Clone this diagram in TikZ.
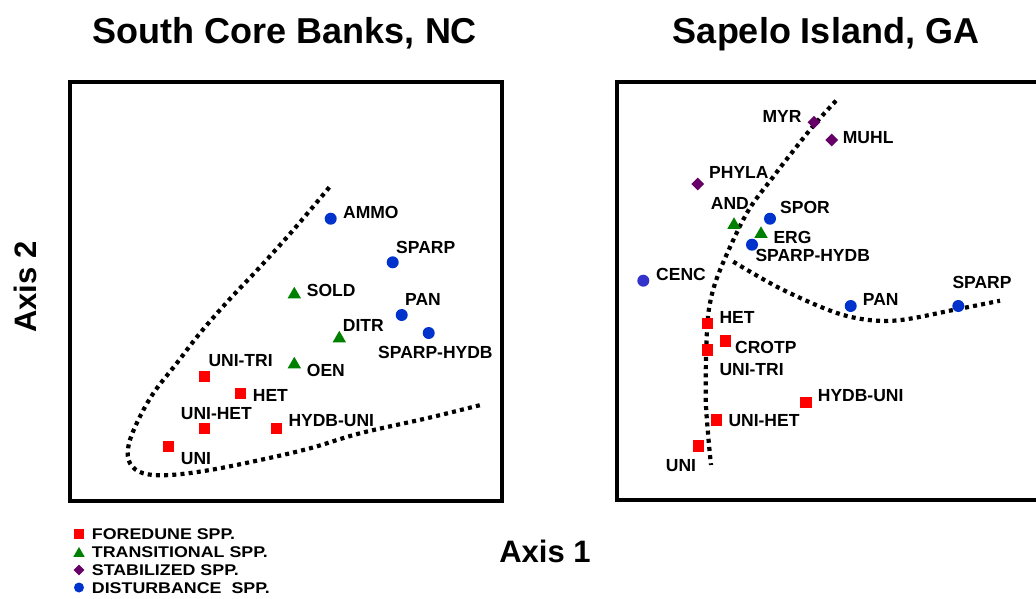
\documentclass[tikz,border=0pt]{standalone}
\usepackage{fontspec}
\setmainfont{Liberation Sans}
\usetikzlibrary{shapes.geometric}

\definecolor{foredune}{HTML}{FF0000}
\definecolor{transit}{HTML}{008000}
\definecolor{stabil}{HTML}{660066}
\definecolor{disturb}{HTML}{0033CC}
\definecolor{disturbb}{HTML}{3333CC}

\tikzset{
  panel/.style={draw=black, line width=4pt},
  ordline/.style={line width=4.2pt, dash pattern=on 4pt off 4.2pt},
  sqmark/.style={rectangle, fill=foredune, minimum size=11.5pt, inner sep=0pt},
  trimark/.style={regular polygon, regular polygon sides=3, fill=transit, minimum size=15.5pt, inner sep=0pt},
  diamark/.style={diamond, fill=stabil, minimum size=13pt, inner sep=0pt},
  dotmark/.style={circle, fill=disturb, minimum size=12pt, inner sep=0pt},
  lab/.style={anchor=west, inner sep=0pt, font=\fontsize{17.5}{17.5}\selectfont\bfseries},
  ttl/.style={anchor=base, inner sep=0pt, font=\fontsize{36}{36}\selectfont\bfseries},
  axlab/.style={inner sep=0pt, font=\fontsize{31}{31}\selectfont\bfseries},
  legtext/.style={anchor=west, inner sep=0pt, font=\fontsize{15.5}{15.5}\selectfont\bfseries},
}

\newcommand{\wideleg}[1]{\scalebox{1.15}[1]{#1}}

\begin{document}
\begin{tikzpicture}[x=1pt, y=-1pt]
\useasboundingbox (0,0) rectangle (1036,598);
\fill[white] (0,0) rectangle (1036,598);

% titles and axis labels
\node[ttl] (titleL) at (285,43) {South Core Banks, NC};
\node[ttl] (titleR) at (826,43) {Sapelo Island, GA};
\node[axlab, rotate=90] (ax2) at (25,287) {Axis 2};
\node[axlab, anchor=base] (ax1) at (545,562.5) {Axis 1};

% panels
\begin{scope}
\clip (0,0) rectangle (1036,598);
\draw[panel] (70,82) rectangle (502,501);
\draw[panel] (617,82) rectangle (1042,500);
\end{scope}

% ---------- South Core Banks ----------
\draw[ordline] plot[smooth, tension=0.6] coordinates {
  (329.3,187.3) (293.3,230) (260,267) (228,301) (199.3,334) (176.7,363.3)
  (153.3,393.3) (136.7,423.3) (128.3,446.7) (130,463.3) (143.3,473.3)
  (170,475) (210,470) (260,460) (310,448.3) (360,433.3) (426.7,418.3) (480.7,405)};

\node[dotmark] (lAMMO) at (330.7,218.7) {};
\node[lab] (tAMMO) at (343,212) {AMMO};
\node[dotmark] (lSPARP) at (392.7,262.3) {};
\node[lab] (tSPARP) at (396,247.3) {SPARP};
\node[dotmark] (lPAN) at (401.7,315) {};
\node[lab] (tPAN) at (405,299) {PAN};
\node[dotmark] (lSH) at (428.7,333) {};
\node[lab] (tSH) at (378,352) {SPARP-HYDB};

\node[trimark] (lSOLD) at (294.3,294.5) {};
\node[lab] (tSOLD) at (306.7,290.7) {SOLD};
\node[trimark] (lDITR) at (339.3,338.5) {};
\node[lab] (tDITR) at (342.7,325) {DITR};
\node[trimark] (lOEN) at (294.3,364.5) {};
\node[lab] (tOEN) at (306.7,370) {OEN};

\node[sqmark] (lUT) at (204.3,376.7) {};
\node[lab] (tUT) at (208.3,361) {UNI-TRI};
\node[sqmark] (lHET) at (240.3,393.3) {};
\node[lab] (tHET) at (252.7,395) {HET};
\node[sqmark] (lUH) at (204.3,428.7) {};
\node[lab] (tUH) at (180.7,413.3) {UNI-HET};
\node[sqmark] (lHU) at (276.3,428.7) {};
\node[lab] (tHU) at (288.3,420.7) {HYDB-UNI};
\node[sqmark] (lUNI) at (168.3,446.7) {};
\node[lab] (tUNI) at (180.7,458.7) {UNI};

% ---------- Sapelo Island ----------
\draw[ordline] plot[smooth, tension=0.55] coordinates {
  (836,100.7) (814,125) (790,155) (773.3,176.7) (746.7,213.3) (720,270)
  (710,303) (706.7,336.7) (705.7,396.7) (708.3,436.7) (711,465)};
\draw[ordline] plot[smooth, tension=0.55] coordinates {
  (733.3,261.7) (783.3,290) (843.3,315) (893.3,320.7) (956.7,309.3) (1000,300.7)};

\node[diamark] (rMYR) at (814,122.3) {};
\node[lab, anchor=east] (tMYR) at (801.7,116) {MYR};
\node[diamark] (rMUHL) at (831.7,140) {};
\node[lab] (tMUHL) at (842.7,137.7) {MUHL};
\node[diamark] (rPHYLA) at (697.7,184) {};
\node[lab] (tPHYLA) at (709,172.3) {PHYLA};

\node[trimark] (rAND) at (734,225) {};
\node[lab] (tAND) at (710.7,203.3) {AND};
\node[dotmark] (rSPOR) at (770,218.7) {};
\node[lab] (tSPOR) at (780,207.3) {SPOR};
\node[trimark] (rERG) at (761,234) {};
\node[lab] (tERG) at (773.3,237.7) {ERG};
\node[dotmark] (rSH) at (752,244.7) {};
\node[lab] (tSH) at (755.3,255.7) {SPARP-HYDB};
\node[dotmark, fill=disturbb] (rCENC) at (643.3,280.7) {};
\node[lab] (tCENC) at (656,274) {CENC};
\node[dotmark] (rPAN) at (850.7,306) {};
\node[lab] (tPAN) at (862.7,299.3) {PAN};
\node[dotmark] (rSPARP) at (958.3,306) {};
\node[lab] (tSPARP) at (952.3,282.7) {SPARP};

\node[sqmark] (rHET) at (707.3,323.3) {};
\node[lab] (tHET) at (719.3,317.3) {HET};
\node[sqmark] (rCROTP) at (725.3,341) {};
\node[lab] (tCROTP) at (735,347.3) {CROTP};
\node[sqmark] (rUT) at (707.3,350) {};
\node[lab] (tUT) at (719.3,370) {UNI-TRI};
\node[sqmark] (rHU) at (806,402.3) {};
\node[lab] (tHU) at (817.7,395.7) {HYDB-UNI};
\node[sqmark] (rUH) at (716.3,420) {};
\node[lab] (tUH) at (728.3,421) {UNI-HET};
\node[sqmark] (rUNI) at (698.3,446) {};
\node[lab] (tUNI) at (665.7,466) {UNI};

% ---------- legend ----------
\node[sqmark, minimum size=10pt] (kF) at (79,534) {};
\node[legtext] (kFt) at (91.7,534) {\wideleg{FOREDUNE SPP.}};
\node[trimark, minimum size=13pt] (kT) at (79,553.5) {};
\node[legtext] (kTt) at (91.7,552) {\wideleg{TRANSITIONAL SPP.}};
\node[diamark, minimum size=11pt] (kS) at (79,570) {};
\node[legtext] (kSt) at (91.7,570) {\wideleg{STABILIZED SPP.}};
\node[dotmark, minimum size=10pt] (kD) at (79,587.5) {};
\node[legtext] (kDt) at (91.7,588) {\wideleg{DISTURBANCE\ \ SPP.}};
\end{tikzpicture}
\end{document}
